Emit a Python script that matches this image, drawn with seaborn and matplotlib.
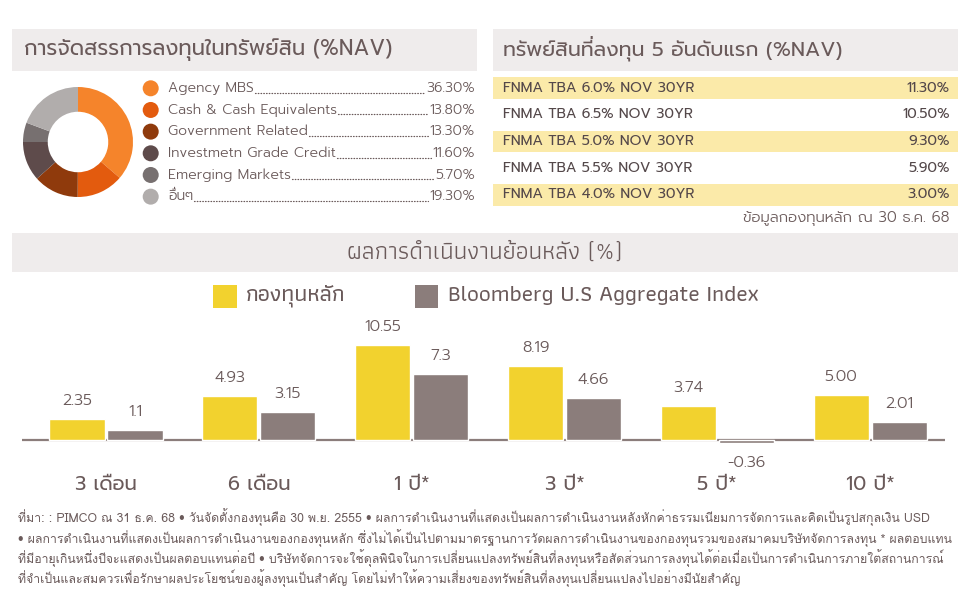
import numpy as np
import pandas as pd
import matplotlib
matplotlib.use("Agg")
import matplotlib.pyplot as plt
import seaborn as sns
from matplotlib.patches import Rectangle, Circle

# ---------------- data ----------------
alloc_labels = ["Agency MBS", "Cash & Cash Equivalents", "Government Related",
                "Investmetn Grade Credit", "Emerging Markets", "อื่นๆ"]
alloc_values = [36.30, 13.80, 13.30, 11.60, 5.70, 19.30]
alloc_texts = ["36.30%", "13.80%", "13.30%", "11.60%", "5.70%", "19.30%"]

top_holdings = ["FNMA TBA 6.0% NOV 30YR", "FNMA TBA 6.5% NOV 30YR",
                "FNMA TBA 5.0% NOV 30YR", "FNMA TBA 5.5% NOV 30YR",
                "FNMA TBA 4.0% NOV 30YR"]
top_values = ["11.30%", "10.50%", "9.30%", "5.90%", "3.00%"]

periods = ["3 เดือน", "6 เดือน", "1 ปี*", "3 ปี*", "5 ปี*", "10 ปี*"]
fund_returns = [2.35, 4.93, 10.55, 8.19, 3.74, 5.00]
bench_returns = [1.1, 3.15, 7.3, 4.66, -0.36, 2.01]
fund_labels = ["2.35", "4.93", "10.55", "8.19", "3.74", "5.00"]
bench_labels = ["1.1", "3.15", "7.3", "4.66", "-0.36", "2.01"]
series_names = ["กองทุนหลัก", "Bloomberg U.S Aggregate Index"]

title_left = "การจัดสรรการลงทุนในทรัพย์สิน (%NAV)"
title_right = "ทรัพย์สินที่ลงทุน 5 อันดับแรก (%NAV)"
title_bottom = "ผลการดำเนินงานย้อนหลัง (%)"
note_right = "ข้อมูลกองทุนหลัก ณ 30 ธ.ค. 68"
footnotes = [
    "ที่มา: : PIMCO ณ 31 ธ.ค. 68 • วันจัดตั้งกองทุนคือ 30 พ.ย. 2555 • ผลการดำเนินงานที่แสดงเป็นผลการดำเนินงานหลังหักค่าธรรมเนียมการจัดการและคิดเป็นรูปสกุลเงิน USD",
    "• ผลการดำเนินงานที่แสดงเป็นผลการดำเนินงานของกองทุนหลัก ซึ่งไม่ได้เป็นไปตามมาตรฐานการวัดผลการดำเนินงานของกองทุนรวมของสมาคมบริษัทจัดการลงทุน * ผลตอบแทน",
    "ที่มีอายุเกินหนึ่งปีจะแสดงเป็นผลตอบแทนต่อปี • บริษัทจัดการจะใช้ดุลพินิจในการเปลี่ยนแปลงทรัพย์สินที่ลงทุนหรือสัดส่วนการลงทุนได้ต่อเมื่อเป็นการดำเนินการภายใต้สถานการณ์",
    "ที่จำเป็นและสมควรเพื่อรักษาผลประโยชน์ของผู้ลงทุนเป็นสำคัญ โดยไม่ทำให้ความเสี่ยงของทรัพย์สินที่ลงทุนเปลี่ยนแปลงไปอย่างมีนัยสำคัญ",
]

# ---------------- style ----------------
donut_colors = ["#f5842b", "#e35b0e", "#8f3a0c", "#5e4b4b", "#777070", "#b1adac"]
YELLOW = "#f2d22e"
GRAY = "#8b7d7b"
TXT = "#6a5a5a"
TAB = "#54484a"
HEAD_BG = "#efecec"
ROW_BG = "#fbeaa9"

sns.set_theme(style="white")
GEO = ["Prompt", "DejaVu Sans"]
COND = ["Athiti", "Prompt", "DejaVu Sans"]
LOOP = ["Loma", "Noto Sans Thai Looped", "DejaVu Sans"]
plt.rcParams["font.family"] = GEO

W, H = 970, 611
fig = plt.figure(figsize=(W / 100, H / 100), dpi=100)
fig.patch.set_facecolor("white")


def fax(x0, y0, w, h):
    return [x0 / W, 1 - (y0 + h) / H, w / W, h / H]


bg = fig.add_axes([0, 0, 1, 1], zorder=0)
bg.set_xlim(0, W)
bg.set_ylim(H, 0)
bg.axis("off")
inv = bg.transData.inverted()
renderer = fig.canvas.get_renderer()


def fit(t, width_px):
    w = t.get_window_extent(renderer=renderer).width
    t.set_fontsize(t.get_fontsize() * width_px / w)
    return t.get_fontsize()


UPPER = set("\u0e31\u0e34\u0e35\u0e36\u0e37\u0e47")
TONES = set("\u0e48\u0e49\u0e4a\u0e4b\u0e4c")


def split_marks(s):
    """Separate tone marks stacked over an upper vowel (no shaping in matplotlib)."""
    base, marks = [], []
    for i, ch in enumerate(s):
        if ch in TONES and i > 0 and s[i - 1] in UPPER:
            marks.append(("".join(base), ch))
        else:
            base.append(ch)
    return "".join(base), marks


def add_marks(t, marks):
    """Draw the stacked tone marks of a left-aligned text raised above the vowel."""
    if not marks:
        return
    x, y = t.get_position()
    prop = t.get_fontproperties()
    ext = t.get_window_extent(renderer=renderer)
    _, _, d = renderer.get_text_width_height_descent(t.get_text(), prop, ismath=False)
    _, _, dlp = renderer.get_text_width_height_descent("lp", prop, ismath=False)
    base_y = ext.y0 + max(d, dlp)
    fs_px = t.get_fontsize() * 100 / 72
    for prefix, ch in marks:
        tp = bg.text(x, y, prefix, fontproperties=prop, ha="left", va=t.get_va())
        xr = tp.get_window_extent(renderer=renderer).x1
        tp.remove()
        xd, yd = inv.transform((xr - 0.3, base_y + 0.2 * fs_px))
        bg.text(xd, yd, ch, fontproperties=prop, ha="right", va="baseline",
                color=t.get_color())


# ---------------- header boxes ----------------
for (x0, y0, w, h) in [(12, 29, 465, 42), (493, 29, 465, 42), (12, 233, 946, 39)]:
    bg.add_patch(Rectangle((x0, y0), w, h, facecolor=HEAD_BG, edgecolor="none"))

t = bg.text(24, 50, title_left, fontsize=14, color=TXT, va="center", ha="left",
            fontweight=400)
fit(t, 369)
base, marks = split_marks(title_right)
t = bg.text(503, 50, base, fontsize=14, color=TXT, va="center", ha="left",
            fontweight=400)
fit(t, 340)
add_marks(t, marks)
t = bg.text(485, 253, title_bottom, fontsize=14, color=TXT, va="center", ha="center",
            family=COND, fontweight=400)
fit(t, 275)

# ---------------- donut ----------------
dax = fig.add_axes(fax(23, 87, 110, 110))
dax.pie(alloc_values, colors=donut_colors, startangle=90, counterclock=False,
        wedgeprops=dict(width=0.45, edgecolor="none"))
dax.set_aspect("equal")
dax.set_xlim(-1, 1)
dax.set_ylim(-1, 1)
dax.axis("off")

# allocation list with dotted leaders
probe = bg.text(0, -100, alloc_labels[1], fontsize=10, fontweight=300)
fs = fit(probe, 169)
probe.remove()
for i, (lab, val, c) in enumerate(zip(alloc_labels, alloc_texts, donut_colors)):
    y = 88.3 + i * 21.67
    bg.add_patch(Circle((150.7, y), 8, facecolor=c, edgecolor="none"))
    base, marks = split_marks(lab)
    tl = bg.text(168, y, base, fontsize=fs, color=TXT, va="center", ha="left", fontweight=300)
    add_marks(tl, marks)
    tv = bg.text(475, y, val, fontsize=fs, color=TXT, va="center", ha="right", fontweight=300)
    e1 = tl.get_window_extent(renderer=renderer)
    e2 = tv.get_window_extent(renderer=renderer)
    x1 = inv.transform((e1.x1, 0))[0] + 1
    x2 = inv.transform((e2.x0, 0))[0] - 1
    bg.plot([x1, x2], [y + 4.5, y + 4.5], color=TXT, lw=0.9, linestyle=(0, (0.5, 1.7)),
            dash_capstyle="round")

# ---------------- top holdings table ----------------
fs_tab = None
for i, (name, val) in enumerate(zip(top_holdings, top_values)):
    yc = 88 + i * 26.75
    if i % 2 == 0:
        bg.add_patch(Rectangle((493, yc - 10.7), 465, 21.4, facecolor=ROW_BG, edgecolor="none"))
    tn = bg.text(503, yc, name, fontsize=9, color=TAB, va="center", ha="left", fontweight=400)
    if fs_tab is None:
        fs_tab = fit(tn, 192)
    tn.set_fontsize(fs_tab)
    bg.text(950, yc, val, fontsize=fs_tab, color=TAB, va="center", ha="right", fontweight=400)
t = bg.text(950, 217, note_right, fontsize=10, color=TXT, va="center", ha="right",
            fontweight=300)
fit(t, 207)

# ---------------- performance legend ----------------
bg.add_patch(Rectangle((213, 285), 24, 23, facecolor=YELLOW, edgecolor="none"))
bg.add_patch(Rectangle((415, 285), 23, 23, facecolor=GRAY, edgecolor="none"))
t1 = bg.text(246, 295.5, series_names[0], fontsize=13, color=TXT, va="center", ha="left",
             family=COND, fontweight=500)
t2 = bg.text(448, 295.5, series_names[1], fontsize=13, color=TXT, va="center", ha="left",
             family=COND, fontweight=500)
f2 = fit(t2, 310)
t1.set_fontsize(f2)

# ---------------- bar chart ----------------
df = pd.DataFrame({
    "period": periods * 2,
    "value": fund_returns + bench_returns,
    "series": [series_names[0]] * len(periods) + [series_names[1]] * len(periods),
})
bax = fig.add_axes(fax(22, 320, 923, 150), zorder=1)
bax.patch.set_alpha(0)
bax.axhline(0, color=GRAY, lw=1.6, zorder=0.5)
sns.barplot(data=df, x="period", y="value", hue="series", order=periods,
            hue_order=series_names, palette=[YELLOW, GRAY], saturation=1,
            width=0.76, gap=0.05, legend=False, ax=bax, errorbar=None, zorder=2)
bax.set_xlim(-0.55, 5.49)
bax.set_ylim(-30 / 9, 120 / 9)
for s in bax.spines.values():
    s.set_visible(False)
bax.set_xticks([])
bax.set_yticks([])
bax.set_xlabel("")
bax.set_ylabel("")

for cont, labels in zip(bax.containers, [fund_labels, bench_labels]):
    for p, lab in zip(cont.patches, labels):
        x = p.get_x() + p.get_width() / 2
        y = p.get_y() + p.get_height()
        off = 13 if y >= 0 else -14
        bax.annotate(lab, (x, y), xytext=(0, off), textcoords="offset points",
                     ha="center", va="center", fontsize=11.5, color=TXT, fontweight=300)

cat_fs = None
for i, per in enumerate(periods):
    xc = bax.transData.transform((i, 0))[0]
    xd = inv.transform((xc, 0))[0]
    t = bg.text(xd, 485, per, fontsize=14, color=TXT, ha="center", va="center",
                fontweight=400)
    if cat_fs is None:
        cat_fs = fit(t, 62)
    t.set_fontsize(cat_fs)

# ---------------- footnotes ----------------
fn_texts = []
sizes = []
targets = [936, 934, 934, None]
for i, line in enumerate(footnotes):
    t = bg.text(18, 517.5 + i * 20.2, line, fontsize=8, color=TXT, va="center", ha="left",
                family=LOOP)
    fn_texts.append(t)
    if targets[i] is not None:
        sizes.append(fit(t, targets[i]))
fn_fs = min(sizes)
for t in fn_texts:
    t.set_fontsize(fn_fs)

fig.savefig("out.png", dpi=100)
